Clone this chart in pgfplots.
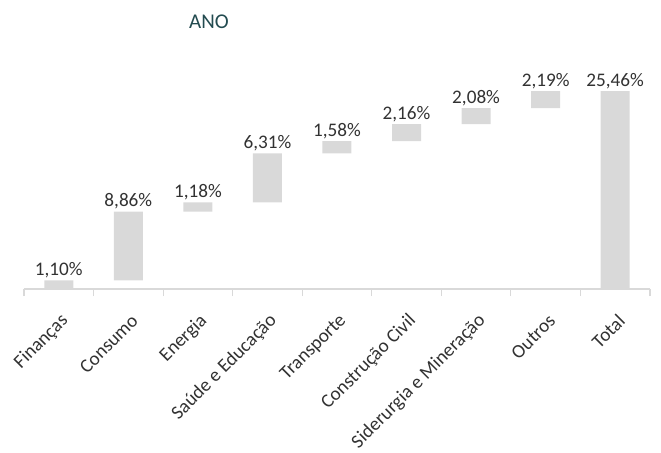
\documentclass[border=0pt]{standalone}
\usepackage{pgfplots}
\pgfplotsset{compat=1.18}
\usepackage{pgfplotstable}
\usepackage{fontspec}
\setmainfont{Carlito}
\definecolor{barg}{RGB}{217,217,217}
\definecolor{axg}{RGB}{217,217,217}
\definecolor{txt}{RGB}{50,50,50}
\definecolor{ttl}{RGB}{35,75,80}
\pgfplotstableread{
x base val top
0 0     1.10  1.10
1 1.10  8.86  9.96
2 9.96  1.18  11.14
3 11.14 6.31  17.45
4 17.45 1.58  19.03
5 19.03 2.16  21.19
6 21.19 2.08  23.27
7 23.27 2.19  25.46
8 0     25.46 25.46
}\wf
\begin{document}
\begin{tikzpicture}
\pgfplotsset{common/.style={
  at={(12pt,81.5pt)}, anchor=south west,
  scale only axis, width=313pt, height=101.1pt,
  xmin=-0.5, xmax=8.5, ymin=0, ymax=26, clip=false}}
\begin{axis}[common,
  ybar stacked, bar width=14.5pt,
  axis y line=none, axis x line*=bottom,
  x axis line style={draw=axg, line width=0.6pt, -},
  xtick={0,...,8},
  xticklabels={Finanças, Consumo, Energia, Saúde e Educação, Transporte, Construção Civil, Siderurgia e Mineração, Outros, Total},
  minor xtick={-0.5,0.5,...,8.5},
  major tick length=0pt, minor tick length=3.5pt, tick align=outside,
  minor tick style={draw=axg, line width=0.6pt},
  xticklabel style={rotate=45, anchor=east, font=\fontsize{9.6}{11}\selectfont, text=txt, yshift=-12.5pt, xshift=-4.5pt},
]
\addplot[draw=none, fill=none] table[x=x, y=base] {\wf};
\addplot[draw=none, fill=barg] table[x=x, y=val] {\wf};
\end{axis}
\begin{axis}[common, axis lines=none, xtick=\empty, ytick=\empty]
\addplot[only marks, mark=none,
  point meta=explicit,
  nodes near coords={\pgfmathprintnumber[fixed, fixed zerofill, precision=2, use comma, assume math mode=true]{\pgfplotspointmeta}\%},
  every node near coord/.append style={anchor=base, yshift=2.5pt, font=\fontsize{9.6}{11}\selectfont, text=txt},
] table[x=x, y=top, meta=val] {\wf};
\end{axis}
\node[anchor=base, text=ttl, font=\fontsize{10.5}{12}\selectfont] at (104.5pt,211.85pt) {ANO};
\pgfresetboundingbox
\path[use as bounding box] (0,0) rectangle (330.5pt,226pt);
\end{tikzpicture}
\end{document}
